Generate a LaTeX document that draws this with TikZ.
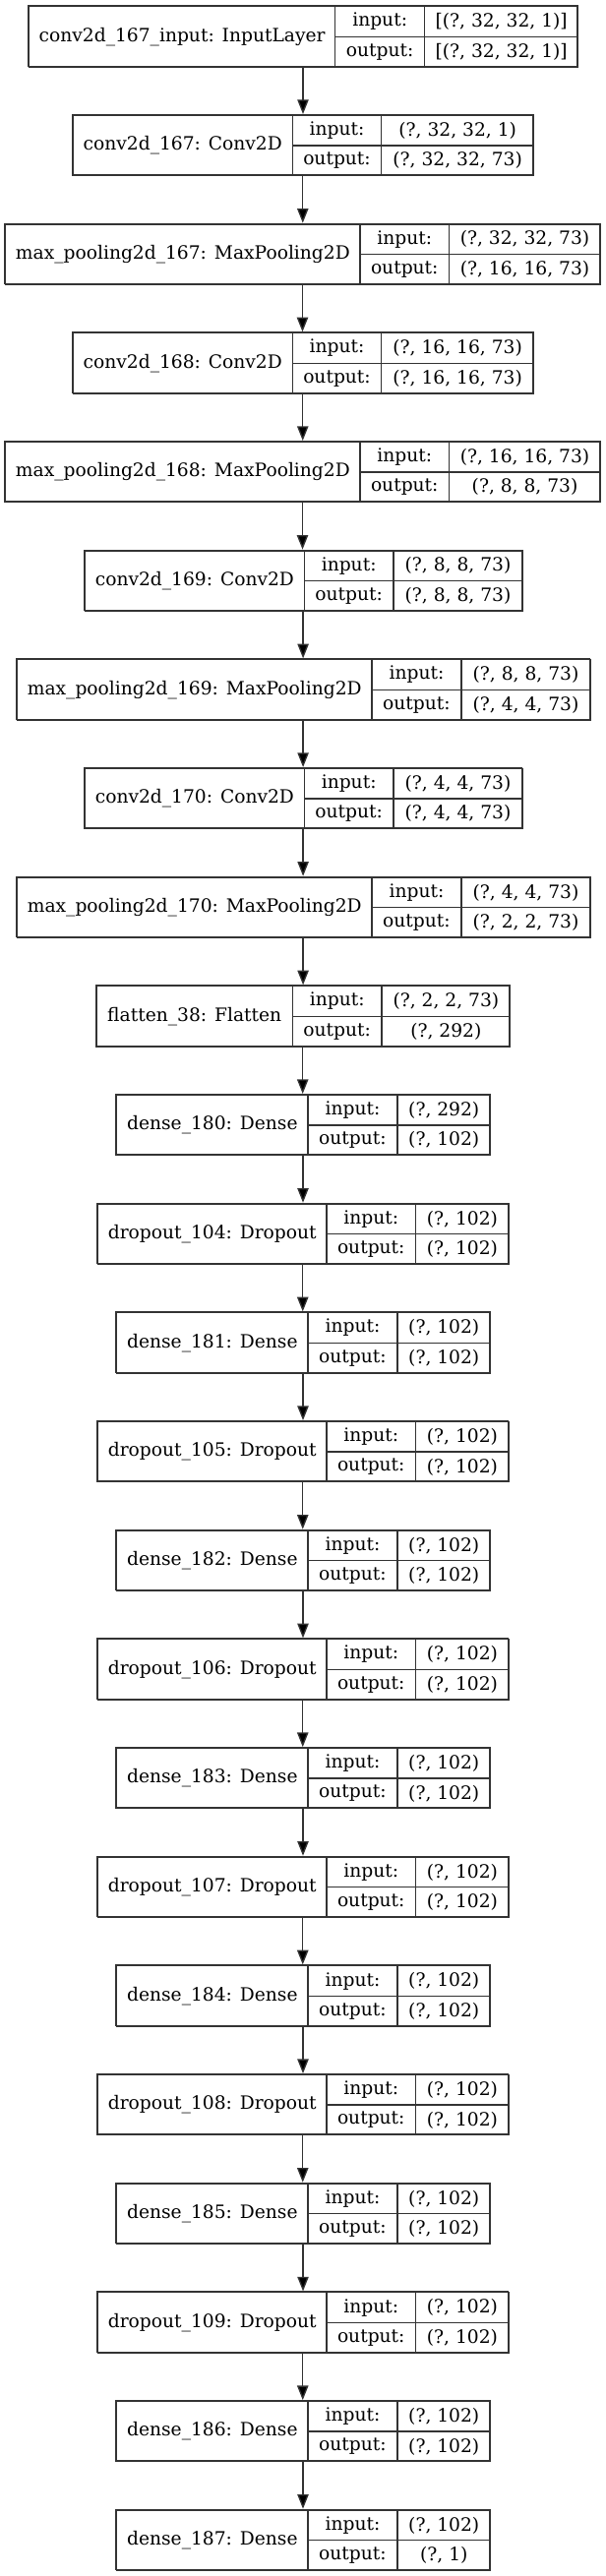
\documentclass[tikz,border=0pt]{standalone}
\usepackage{fontspec}
\setmainfont{DejaVu Serif}
\usetikzlibrary{arrows.meta}
\tikzset{
  cell/.style={draw=black!80, line width=1pt, inner sep=0pt, anchor=north west,
    font=\fontsize{14}{16}\selectfont, text=black},
  outerbox/.style={draw=black!80, line width=1pt, inner sep=0pt},
  flow/.style={draw=black!80, line width=1pt, -{Triangle[length=11pt,width=8.5pt,fill=black]}},
}
% #1 id, #2 left, #3 divider1, #4 divider2, #5 right, #6 label, #7 input, #8 output
\newcommand\klayer[8]{%
  \pgfmathsetmacro\kT{6+(#1-1)*110.67}%
  \pgfmathsetmacro\kM{\kT+30.65}%
  \pgfmathsetmacro\kWa{(#3-#2)*0.75}%
  \pgfmathsetmacro\kWb{(#4-#3)*0.75}%
  \pgfmathsetmacro\kWc{(#5-#4)*0.75}%
  \pgfmathsetmacro\kWo{(#5-#2)*0.75}%
  \pgfmathsetmacro\kC{(#2+#5)/2}%
  \node[outerbox, minimum width=\kWo pt, minimum height=45.98pt] (B#1) at (\kC,\kM) {};
  \node[cell, minimum width=\kWa pt, minimum height=45.98pt] (N#1) at (#2,\kT) {#6};
  \node[cell, minimum width=\kWb pt, minimum height=22.99pt] (I#1) at (#3,\kT) {input:};
  \node[cell, minimum width=\kWc pt, minimum height=22.99pt] (V#1) at (#4,\kT) {#7};
  \node[cell, minimum width=\kWb pt, minimum height=22.99pt] (O#1) at (#3,\kM) {output:};
  \node[cell, minimum width=\kWc pt, minimum height=22.99pt] (W#1) at (#4,\kM) {#8};
}
\begin{document}
\begin{tikzpicture}[x=0.75pt, y=-0.75pt]
\fill[white] (0,0) rectangle (616,2619);
\useasboundingbox (0,0) rectangle (616,2619);
\klayer{1}{29}{340}{431}{587}{conv2d\_167\_input: InputLayer}{[(?, 32, 32, 1)]}{[(?, 32, 32, 1)]}
\klayer{2}{73.5}{296.7}{387}{542}{conv2d\_167: Conv2D}{(?, 32, 32, 1)}{(?, 32, 32, 73)}
\klayer{3}{5}{365.4}{455.8}{610}{max\_pooling2d\_167: MaxPooling2D}{(?, 32, 32, 73)}{(?, 16, 16, 73)}
\klayer{4}{73.5}{296.7}{387}{542}{conv2d\_168: Conv2D}{(?, 16, 16, 73)}{(?, 16, 16, 73)}
\klayer{5}{5}{365.4}{455.8}{610}{max\_pooling2d\_168: MaxPooling2D}{(?, 16, 16, 73)}{(?, 8, 8, 73)}
\klayer{6}{85.7}{308.8}{399.2}{530.5}{conv2d\_169: Conv2D}{(?, 8, 8, 73)}{(?, 8, 8, 73)}
\klayer{7}{17}{377.2}{468.4}{599.2}{max\_pooling2d\_169: MaxPooling2D}{(?, 8, 8, 73)}{(?, 4, 4, 73)}
\klayer{8}{85.7}{308.8}{399.2}{530.5}{conv2d\_170: Conv2D}{(?, 4, 4, 73)}{(?, 4, 4, 73)}
\klayer{9}{17}{377.2}{468.4}{599.2}{max\_pooling2d\_170: MaxPooling2D}{(?, 4, 4, 73)}{(?, 2, 2, 73)}
\klayer{10}{97.4}{296.7}{387.4}{518}{flatten\_38: Flatten}{(?, 2, 2, 73)}{(?, 292)}
\klayer{11}{118}{312.4}{403.2}{498}{dense\_180: Dense}{(?, 292)}{(?, 102)}
\klayer{12}{99}{331.2}{422}{516.5}{dropout\_104: Dropout}{(?, 102)}{(?, 102)}
\klayer{13}{118}{312.4}{403.2}{498}{dense\_181: Dense}{(?, 102)}{(?, 102)}
\klayer{14}{99}{331.2}{422}{516.5}{dropout\_105: Dropout}{(?, 102)}{(?, 102)}
\klayer{15}{118}{312.4}{403.2}{498}{dense\_182: Dense}{(?, 102)}{(?, 102)}
\klayer{16}{99}{331.2}{422}{516.5}{dropout\_106: Dropout}{(?, 102)}{(?, 102)}
\klayer{17}{118}{312.4}{403.2}{498}{dense\_183: Dense}{(?, 102)}{(?, 102)}
\klayer{18}{99}{331.2}{422}{516.5}{dropout\_107: Dropout}{(?, 102)}{(?, 102)}
\klayer{19}{118}{312.4}{403.2}{498}{dense\_184: Dense}{(?, 102)}{(?, 102)}
\klayer{20}{99}{331.2}{422}{516.5}{dropout\_108: Dropout}{(?, 102)}{(?, 102)}
\klayer{21}{118}{312.4}{403.2}{498}{dense\_185: Dense}{(?, 102)}{(?, 102)}
\klayer{22}{99}{331.2}{422}{516.5}{dropout\_109: Dropout}{(?, 102)}{(?, 102)}
\klayer{23}{118}{312.4}{403.2}{498}{dense\_186: Dense}{(?, 102)}{(?, 102)}
\klayer{24}{118}{312.4}{403.2}{498}{dense\_187: Dense}{(?, 102)}{(?, 1)}
\foreach \i in {1,...,23}{
  \pgfmathtruncatemacro\j{\i+1}
  \draw[flow] (B\i.south) -- (B\i.south |- B\j.north);
}
\end{tikzpicture}
\end{document}
